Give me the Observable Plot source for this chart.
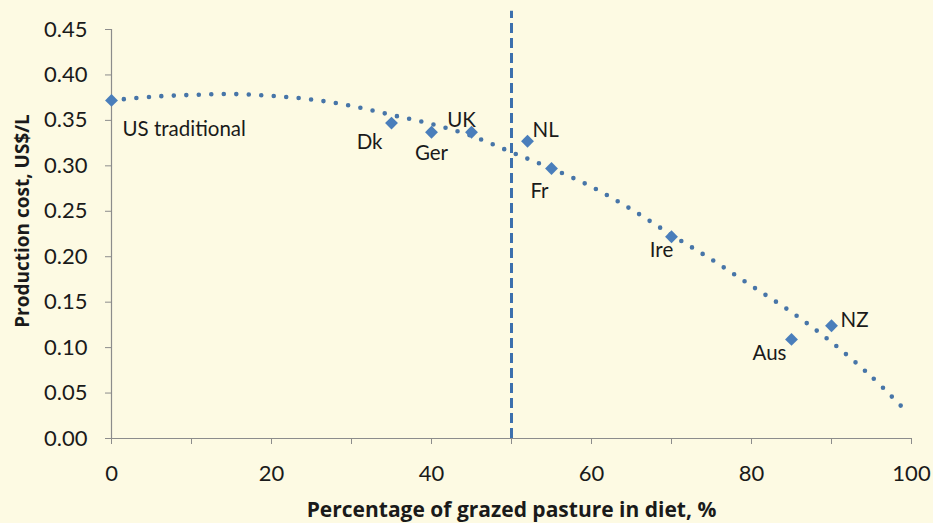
<!DOCTYPE html>
<html>
<head>
<meta charset="utf-8">
<script src="https://cdn.jsdelivr.net/npm/d3@7"></script>
<script src="https://cdn.jsdelivr.net/npm/@observablehq/plot@0.6"></script>
<style>
  html, body { margin: 0; padding: 0; background: #fdfae3; }
  #chart { width: 933px; height: 523px; overflow: hidden; }
</style>
</head>
<body>
<div id="chart"></div>
<script>
// ---- data ----
const countries = ["US traditional", "Dk", "Ger", "UK", "NL", "Fr", "Ire", "Aus", "NZ"];
const pasturePct = [0, 35, 40, 45, 52, 55, 70, 85, 90];
const costUSD = [0.372, 0.347, 0.337, 0.337, 0.327, 0.297, 0.222, 0.109, 0.124];

// dotted trend line
const trendX = [0, 5, 10, 15, 20, 25, 30, 35, 40, 45, 50, 55, 60, 65, 70, 75, 80, 85, 90, 95, 99];
const trendY = [0.372, 0.376, 0.378, 0.379, 0.377, 0.373, 0.366, 0.356, 0.346, 0.333, 0.315, 0.297, 0.277, 0.252, 0.224, 0.197, 0.168, 0.139, 0.106, 0.068, 0.033];

// vertical dashed reference at 50 %
const refX = [50];
const refTop = 0.47;

const yTicks = [0, 0.05, 0.10, 0.15, 0.20, 0.25, 0.30, 0.35, 0.40, 0.45];
const xTickMarks = [0, 10, 20, 30, 40, 50, 60, 70, 80, 90, 100];
const xTickLabels = [0, 20, 40, 60, 80, 100];

const xTitle = "Percentage of grazed pasture in diet, %";
const yTitle = "Production cost, US$/L";

// ---- styling / placement (not data) ----
const labelPlace = {
  "US traditional": {dx: 11, dy: 29, anchor: "start"},
  "Dk": {dx: -9, dy: 19, anchor: "end"},
  "Ger": {dx: 0, dy: 21, anchor: "middle"},
  "UK": {dx: -10, dy: -12, anchor: "middle"},
  "NL": {dx: 5, dy: -11, anchor: "start"},
  "Fr": {dx: -12, dy: 23, anchor: "middle"},
  "Ire": {dx: -10, dy: 14, anchor: "middle"},
  "Aus": {dx: -5, dy: 14, anchor: "end"},
  "NZ": {dx: 9, dy: -5, anchor: "start"}
};

const points = countries.map((c, i) => ({name: c, x: pasturePct[i], y: costUSD[i]}));
const trend = trendX.map((x, i) => ({x, y: trendY[i]}));

const blue = "#4a7ebb";
const axisGray = "#8c8c8c";
const font = "Lato, 'Open Sans', sans-serif";
const titleFont = "'Open Sans', Lato, sans-serif";

const chart = Plot.plot({
  width: 933,
  height: 523,
  marginLeft: 111,
  marginRight: 22,
  marginTop: 29,
  marginBottom: 85,
  style: {background: "transparent", fontFamily: font, color: "#1a1a1a", overflow: "visible"},
  x: {domain: [0, 100]},
  y: {domain: [0, 0.45]},
  marks: [
    // axis lines
    Plot.ruleX([0], {y1: 0, y2: 0.45, stroke: axisGray, strokeWidth: 1.2}),
    Plot.ruleY([0], {stroke: axisGray, strokeWidth: 1.2}),
    // y axis
    Plot.axisY({ticks: yTicks, tickSize: 6, label: null, stroke: axisGray, text: null}),
    Plot.text(yTicks, {x: 0, y: d => d, text: d => d.toFixed(2), textAnchor: "end", dx: -24,
      fontSize: 22, fill: "#1a1a1a"}),
    // x axis ticks every 10, labels every 20
    Plot.axisX({ticks: xTickMarks, text: null, tickSize: 6, label: null, stroke: axisGray}),
    Plot.axisX({ticks: xTickLabels, tickSize: 0, tickPadding: 27, fontSize: 22, label: null, fill: "#1a1a1a"}),
    // dashed reference line
    Plot.ruleX(refX, {y1: 0, y2: refTop, stroke: "#3d70ad", strokeWidth: 3, strokeDasharray: "10,5", clip: false}),
    // dotted trend line
    Plot.line(trend, {x: "x", y: "y", curve: "catmull-rom", stroke: "#4775a8", strokeWidth: 4.6,
      strokeDasharray: "0,12.5", strokeLinecap: "round"}),
    // data points
    Plot.dot(points, {x: "x", y: "y", symbol: "diamond2", r: 5.8, fill: blue, stroke: "none"}),
    // point labels
    ...countries.map(c => {
      const p = labelPlace[c];
      return Plot.text(points.filter(d => d.name === c), {x: "x", y: "y", text: "name",
        dx: p.dx, dy: p.dy, textAnchor: p.anchor, fontSize: 20.5, fill: "#1a1a1a"});
    }),
    // axis titles
    Plot.text([xTitle], {frameAnchor: "bottom", textAnchor: "middle", lineAnchor: "middle", dy: 72,
      fontSize: 21, fontWeight: "bold", fontFamily: titleFont, fill: "#1a1a1a"}),
    Plot.text([yTitle], {frameAnchor: "left", textAnchor: "middle", lineAnchor: "middle", rotate: -90,
      dx: -89, dy: -13, fontSize: 19, fontWeight: "bold", fontFamily: titleFont, fill: "#1a1a1a"})
  ]
});

document.getElementById("chart").appendChild(chart);
</script>
</body>
</html>
